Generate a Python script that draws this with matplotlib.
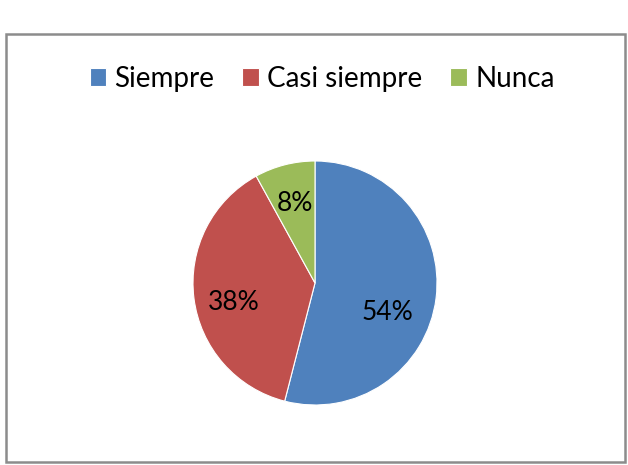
import matplotlib.pyplot as plt
from matplotlib.patches import Rectangle

# data
labels = ['Siempre', 'Casi siempre', 'Nunca']
values = [54, 38, 8]
colors = ['#4F81BD', '#C0504D', '#9BBB59']

plt.rcParams['font.family'] = ['Lato', 'DejaVu Sans']

fig = plt.figure(figsize=(6.28, 4.65), dpi=100)

# chart border like the Excel chart area
fig.patches.append(Rectangle((6 / 628, 3 / 465), 619 / 628, 428 / 465,
                             transform=fig.transFigure, fill=False,
                             edgecolor='#8c8c8c', linewidth=1.8))

# pie axes: centre (315, 283) px, radius 122 px
ax = fig.add_axes([(315 - 122) / 628, (465 - 283 - 122) / 465, 244 / 628, 244 / 465])
wedges, texts, autotexts = ax.pie(values, colors=colors, startangle=90, counterclock=False,
                                  autopct='%1.0f%%', pctdistance=0.67,
                                  wedgeprops=dict(edgecolor='white', linewidth=0.8),
                                  textprops=dict(fontsize=19, color='black'))
ax.set_xlim(-1, 1)
ax.set_ylim(-1, 1)
ax.set_aspect('equal')

# Excel puts the labels of the two big slices a bit lower
autotexts[0].set_position((0.59, -0.24))
autotexts[1].set_position((-0.67, -0.16))

fig.legend(wedges, labels, loc='center', bbox_to_anchor=(0.513, 0.83), ncol=3,
           frameon=False, fontsize=20, handlelength=0.6, handleheight=0.6,
           handletextpad=0.3, columnspacing=1.0)

plt.savefig('out.png', dpi=100)
